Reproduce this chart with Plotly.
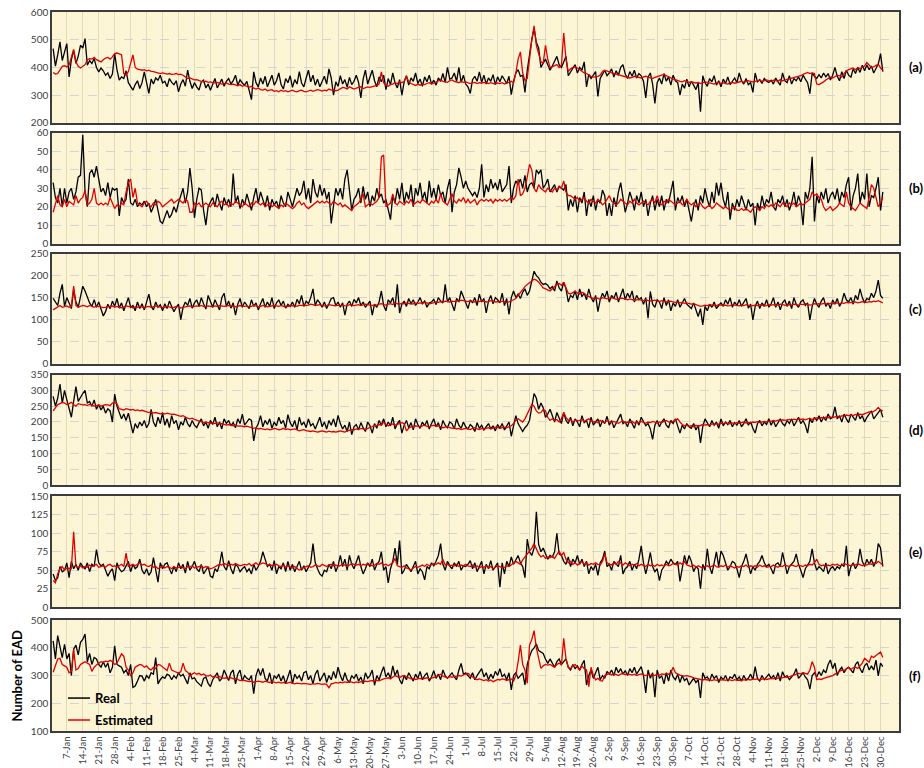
import plotly.graph_objects as go

# ---------------------------------------------------------------- data
# Daily values (day 0 = 1 January), one week per row.

real_a = [
    468, 405, 445, 492, 425, 460, 486,
    366, 428, 462, 415, 440, 480, 470,
    504, 408, 425, 414, 432, 400, 384,
    398, 388, 372, 380, 360, 376, 450,
    392, 354, 366, 360, 388, 345, 330,
    318, 338, 352, 324, 345, 384, 350,
    306, 358, 340, 362, 354, 372, 344,
    350, 330, 360, 346, 338, 352, 312,
    340, 356, 332, 390, 350, 324, 345,
    330, 318, 348, 354, 326, 340, 318,
    338, 360, 326, 345, 358, 332, 350,
    360, 340, 352, 372, 336, 355, 344,
    336, 350, 318, 284, 384, 345, 330,
    362, 340, 368, 330, 348, 372, 336,
    352, 380, 338, 322, 360, 345, 370,
    328, 356, 340, 385, 344, 330, 362,
    390, 348, 372, 336, 358, 330, 352,
    368, 340, 395, 362, 300, 348, 332,
    370, 340, 356, 328, 364, 338, 350,
    372, 346, 290, 358, 390, 340, 362,
    390, 352, 330, 366, 348, 372, 320,
    360, 338, 380, 344, 326, 356, 300,
    348, 370, 336, 362, 350, 380, 342,
    358, 332, 366, 348, 372, 340, 354,
    336, 362, 350, 378, 346, 400, 358,
    362, 380, 350, 400, 346, 372, 340,
    330, 306, 356, 368, 350, 384, 346,
    372, 340, 362, 350, 374, 338, 366,
    348, 370, 356, 342, 368, 302, 350,
    380, 392, 368, 372, 310, 390, 450,
    500, 540, 490, 470, 400, 415, 430,
    410, 390, 405, 420, 440, 410, 400,
    420, 440, 370, 385, 395, 410, 380,
    400, 390, 420, 330, 375, 360, 375,
    385, 295, 360, 375, 390, 370, 380,
    395, 365, 388, 372, 400, 410, 376,
    360, 385, 368, 390, 362, 378, 370,
    350, 290, 365, 380, 340, 270, 345,
    362, 340, 378, 350, 366, 336, 372,
    352, 345, 300, 340, 325, 358, 330,
    350, 336, 320, 345, 240, 370, 345,
    332, 360, 348, 370, 336, 352, 330,
    358, 342, 366, 338, 350, 362, 345,
    380, 352, 340, 360, 338, 345, 310,
    380, 348, 356, 342, 360, 350, 346,
    354, 340, 362, 348, 336, 380, 352,
    345, 370, 340, 360, 352, 366, 348,
    372, 358, 345, 305, 380, 368, 360,
    374, 362, 380, 366, 378, 355, 372,
    400, 368, 352, 385, 360, 390, 372,
    365, 395, 378, 400, 382, 408, 388,
    410, 392, 405, 380, 398, 412, 450,
    385,
]

est_a = [
    382, 376, 378, 392, 404, 406, 402,
    408, 440, 465, 420, 404, 398, 405,
    410, 428, 432, 430, 436, 428, 425,
    420, 428, 434, 436, 430, 438, 450,
    452, 448, 446, 378, 372, 385, 420,
    445, 400, 394, 392, 390, 392, 388,
    390, 386, 385, 382, 380, 378, 380,
    378, 376, 378, 375, 376, 378, 374,
    376, 372, 365, 360, 362, 358, 355,
    356, 352, 350, 348, 350, 346, 348,
    345, 344, 346, 342, 340, 342, 344,
    340, 338, 340, 336, 334, 338, 332,
    335, 330, 328, 332, 325, 322, 326,
    320, 318, 322, 316, 318, 320, 314,
    316, 312, 318, 314, 316, 312, 315,
    318, 314, 312, 316, 318, 314, 312,
    315, 318, 314, 316, 320, 318, 315,
    318, 316, 322, 318, 320, 316, 318,
    324, 328, 326, 322, 330, 326, 322,
    325, 328, 330, 324, 326, 330, 328,
    330, 332, 335, 340, 384, 345, 335,
    332, 338, 340, 345, 342, 348, 345,
    350, 368, 348, 342, 338, 335, 340,
    336, 340, 338, 342, 345, 340, 344,
    348, 352, 355, 350, 348, 346, 352,
    355, 350, 348, 345, 350, 346, 348,
    345, 342, 344, 346, 342, 345, 343,
    346, 344, 342, 345, 343, 340, 344,
    342, 345, 340, 343, 346, 350, 345,
    380, 430, 456, 380, 352, 360, 440,
    500, 550, 480, 450, 420, 415, 480,
    430, 400, 402, 406, 410, 400, 408,
    524, 430, 385, 395, 400, 402, 398,
    392, 385, 380, 378, 372, 368, 365,
    366, 368, 372, 385, 390, 388, 384,
    380, 378, 375, 372, 370, 368, 366,
    365, 362, 364, 368, 366, 364, 362,
    366, 368, 365, 362, 360, 364, 366,
    368, 372, 375, 370, 365, 362, 358,
    356, 352, 350, 348, 352, 350, 346,
    348, 345, 344, 346, 342, 345, 348,
    346, 344, 342, 340, 344, 346, 342,
    345, 342, 340, 344, 346, 343, 345,
    348, 350, 346, 348, 352, 350, 348,
    350, 352, 354, 350, 352, 355, 352,
    350, 354, 352, 350, 356, 352, 354,
    356, 358, 360, 362, 365, 368, 370,
    375, 380, 382, 378, 380, 378, 340,
    338, 342, 348, 355, 360, 365, 362,
    368, 372, 370, 365, 378, 388, 392,
    395, 398, 392, 400, 396, 402, 405,
    418, 410, 400, 402, 408, 412, 398,
    390,
]

real_b = [
    33, 25, 22, 30, 20, 30, 22,
    28, 30, 24, 28, 36, 37, 59,
    28, 20, 38, 40, 36, 42, 35,
    28, 30, 26, 33, 25, 30, 29,
    30, 15, 25, 22, 24, 35, 22,
    21, 24, 20, 22, 21, 23, 20,
    22, 17, 20, 24, 18, 12, 11,
    15, 18, 14, 16, 20, 17, 22,
    26, 30, 22, 28, 41, 30, 14,
    24, 30, 29, 18, 10, 20, 23,
    25, 20, 27, 22, 18, 25, 21,
    24, 20, 38, 22, 26, 19, 24,
    21, 27, 23, 18, 25, 30, 22,
    28, 24, 20, 26, 18, 24, 21,
    23, 19, 26, 22, 20, 28, 24,
    20, 25, 30, 26, 28, 34, 24,
    30, 22, 35, 28, 25, 32, 26,
    30, 24, 28, 11, 22, 30, 26,
    30, 24, 35, 40, 28, 18, 24,
    26, 30, 22, 31, 24, 28, 20,
    26, 23, 30, 25, 27, 22, 24,
    18, 13, 26, 22, 30, 24, 33,
    22, 28, 24, 32, 20, 30, 26,
    33, 24, 28, 22, 34, 25, 30,
    24, 32, 26, 28, 22, 30, 35,
    17, 28, 32, 41, 36, 30, 34,
    30, 28, 26, 28, 25, 30, 43,
    25, 32, 28, 35, 30, 33, 29,
    35, 28, 30, 32, 42, 22, 30,
    34, 32, 35, 30, 37, 28, 32,
    33, 30, 40, 38, 40, 30, 32,
    35, 28, 30, 32, 28, 31, 30,
    29, 32, 18, 24, 20, 26, 17,
    25, 22, 28, 15, 24, 20, 26,
    18, 24, 22, 29, 26, 15, 22,
    15, 25, 20, 28, 33, 25, 17,
    22, 28, 24, 18, 26, 22, 28,
    20, 24, 15, 22, 26, 18, 24,
    20, 26, 18, 24, 22, 28, 34,
    18, 25, 22, 26, 20, 24, 18,
    12, 20, 24, 18, 26, 22, 30,
    24, 20, 28, 22, 33, 26, 33,
    24, 20, 28, 13, 22, 18, 24,
    20, 26, 22, 18, 24, 20, 22,
    10, 22, 18, 26, 20, 24, 22,
    28, 20, 18, 24, 22, 26, 20,
    24, 18, 22, 28, 20, 26, 22,
    10, 28, 24, 30, 47, 12, 26,
    22, 28, 24, 30, 22, 26, 28,
    24, 30, 22, 28, 25, 32, 36,
    18, 26, 30, 38, 22, 28, 24,
    38, 20, 26, 25, 30, 36, 18,
    28,
]

est_b = [
    17, 22, 26, 21, 20, 24, 20,
    23, 22, 21, 26, 22, 24, 25,
    29, 21, 22, 24, 30, 22, 21,
    22, 21, 22, 21, 25, 22, 19,
    21, 20, 22, 21, 28, 33, 35,
    25, 30, 22, 21, 20, 22, 23,
    21, 20, 22, 21, 23, 22, 20,
    21, 22, 23, 24, 22, 23, 24,
    23, 22, 24, 23, 17, 17, 22,
    21, 22, 20, 21, 22, 21, 20,
    22, 21, 20, 22, 23, 21, 22,
    20, 22, 21, 23, 22, 21, 20,
    22, 21, 20, 22, 21, 23, 22,
    21, 22, 20, 21, 22, 20, 21,
    20, 19, 21, 20, 22, 21, 20,
    19, 20, 22, 23, 21, 22, 20,
    19, 20, 21, 22, 23, 22, 23,
    22, 23, 22, 21, 23, 22, 21,
    22, 20, 21, 20, 19, 18, 20,
    21, 22, 24, 27, 20, 21, 22,
    21, 22, 23, 25, 47, 48, 20,
    21, 22, 27, 22, 21, 23, 22,
    21, 23, 22, 24, 21, 22, 23,
    22, 24, 23, 22, 21, 23, 22,
    24, 22, 27, 23, 22, 21, 24,
    27, 23, 22, 24, 23, 25, 22,
    24, 22, 23, 24, 21, 23, 24,
    23, 24, 23, 24, 22, 24, 23,
    24, 23, 24, 23, 24, 25, 24,
    26, 35, 26, 27, 30, 36, 43,
    40, 30, 28, 32, 30, 29, 28,
    30, 29, 28, 30, 29, 31, 30,
    34, 28, 26, 26, 25, 24, 25,
    23, 24, 25, 23, 22, 24, 23,
    22, 24, 23, 21, 22, 24, 26,
    23, 22, 21, 22, 24, 23, 22,
    21, 23, 22, 24, 22, 21, 22,
    23, 22, 21, 23, 24, 22, 26,
    22, 21, 23, 22, 24, 23, 22,
    21, 22, 23, 21, 22, 24, 22,
    21, 22, 20, 21, 22, 20, 19,
    20, 21, 19, 20, 22, 21, 20,
    19, 20, 19, 18, 19, 20, 18,
    18, 19, 18, 19, 18, 17, 19,
    20, 19, 18, 20, 19, 21, 20,
    21, 20, 22, 21, 20, 22, 21,
    20, 22, 21, 22, 20, 21, 22,
    21, 22, 23, 24, 28, 26, 27,
    25, 24, 20, 18, 19, 20, 18,
    19, 20, 22, 21, 20, 28, 22,
    20, 19, 18, 20, 22, 21, 20,
    19, 25, 32, 30, 24, 20, 22,
    25,
]

real_c = [
    148, 140, 132, 160, 180, 130, 150,
    138, 125, 168, 140, 128, 155, 176,
    165, 150, 138, 130, 145, 128, 140,
    124, 108, 118, 135, 125, 142, 130,
    148, 126, 138, 120, 135, 150, 128,
    132, 120, 140, 125, 136, 122, 138,
    158, 130, 122, 140, 128, 134, 120,
    136, 125, 142, 130, 118, 128, 135,
    100, 128, 140, 132, 148, 126, 138,
    145, 130, 150, 136, 124, 155, 140,
    128, 145, 135, 122, 150, 160, 130,
    142, 126, 138, 110, 135, 148, 128,
    140, 132, 125, 145, 130, 138, 122,
    136, 148, 128, 140, 130, 150, 125,
    138, 145, 132, 142, 126, 135, 130,
    140, 128, 146, 136, 155, 130, 142,
    136, 150, 170, 132, 145, 138, 128,
    140, 125, 136, 148, 150, 132, 140,
    128, 138, 110, 135, 142, 130, 146,
    138, 150, 132, 140, 128, 135, 142,
    110, 135, 128, 140, 165, 132, 120,
    145, 138, 150, 128, 180, 115, 135,
    142, 130, 148, 136, 145, 132, 140,
    150, 136, 142, 128, 138, 140, 146,
    134, 150, 142, 138, 180, 140, 150,
    135, 120, 148, 140, 165, 150, 140,
    125, 145, 138, 150, 132, 158, 140,
    148, 115, 142, 155, 136, 150, 145,
    138, 160, 132, 148, 112, 150, 165,
    150, 158, 148, 162, 170, 155, 165,
    190, 210, 200, 195, 185, 180, 182,
    178, 170, 175, 165, 188, 172, 165,
    185, 170, 140, 155, 150, 165, 145,
    170, 152, 160, 145, 170, 150, 140,
    155, 118, 145, 160, 150, 165, 140,
    155, 148, 162, 140, 158, 170, 145,
    160, 150, 165, 140, 155, 145, 150,
    135, 150, 103, 164, 135, 128, 145,
    140, 125, 150, 132, 145, 120, 138,
    130, 145, 128, 140, 148, 135, 130,
    125, 138, 120, 107, 125, 88, 130,
    120, 135, 128, 140, 125, 132, 138,
    130, 145, 135, 150, 128, 140, 132,
    145, 130, 138, 148, 126, 135, 99,
    130, 142, 125, 138, 130, 145, 128,
    136, 150, 128, 140, 122, 138, 145,
    130, 142, 125, 150, 135, 128, 140,
    145, 132, 138, 99, 130, 148, 135,
    128, 142, 150, 130, 138, 125, 145,
    135, 148, 130, 140, 160, 145, 140,
    150, 135, 155, 145, 170, 150, 138,
    148, 145, 160, 150, 165, 190, 155,
    148,
]

est_c = [
    122, 126, 130, 132, 128, 130, 131,
    128, 130, 176, 132, 128, 130, 132,
    131, 129, 132, 130, 128, 131, 130,
    129, 127, 128, 130, 129, 131, 128,
    130, 128, 127, 129, 131, 130, 128,
    127, 129, 128, 130, 128, 127, 129,
    130, 128, 129, 131, 130, 128, 127,
    128, 130, 129, 127, 128, 130, 129,
    126, 128, 129, 130, 131, 129, 130,
    131, 130, 132, 130, 129, 131, 130,
    129, 131, 130, 132, 131, 130, 131,
    132, 130, 131, 129, 130, 132, 131,
    130, 131, 129, 130, 132, 131, 129,
    130, 132, 131, 129, 130, 131, 132,
    131, 130, 132, 131, 129, 130, 131,
    132, 131, 130, 133, 132, 134, 132,
    133, 135, 134, 132, 133, 134, 132,
    131, 132, 134, 133, 132, 131, 133,
    132, 133, 131, 132, 134, 133, 132,
    133, 134, 132, 133, 135, 134, 133,
    132, 134, 133, 135, 136, 134, 133,
    135, 136, 134, 138, 136, 135, 137,
    136, 138, 137, 135, 136, 138, 137,
    138, 137, 139, 138, 136, 137, 139,
    140, 139, 141, 140, 142, 141, 140,
    142, 141, 143, 142, 144, 143, 142,
    141, 143, 142, 140, 142, 141, 143,
    142, 140, 141, 143, 142, 140, 141,
    140, 142, 141, 139, 140, 142, 145,
    148, 155, 160, 168, 175, 180, 185,
    188, 192, 190, 185, 178, 172, 170,
    168, 165, 170, 175, 180, 182, 178,
    185, 170, 160, 158, 162, 165, 160,
    158, 162, 160, 155, 152, 150, 148,
    150, 148, 146, 150, 148, 147, 149,
    150, 148, 146, 147, 149, 148, 146,
    145, 147, 146, 144, 145, 146, 144,
    143, 145, 144, 142, 143, 144, 142,
    141, 143, 142, 140, 141, 142, 140,
    139, 140, 138, 139, 137, 138, 136,
    135, 136, 134, 132, 130, 131, 133,
    132, 134, 133, 131, 132, 134, 133,
    132, 133, 131, 132, 134, 133, 132,
    131, 133, 132, 134, 133, 131, 132,
    133, 132, 134, 133, 131, 132, 134,
    133, 134, 132, 133, 135, 134, 133,
    132, 134, 133, 135, 134, 133, 135,
    134, 136, 135, 133, 134, 136, 135,
    136, 135, 137, 136, 135, 137, 136,
    137, 138, 136, 138, 137, 139, 138,
    138, 139, 140, 138, 139, 141, 140,
    139, 141, 140, 142, 141, 143, 140,
    138,
]

real_d = [
    281, 250, 275, 320, 260, 300, 270,
    245, 215, 265, 312, 265, 280, 290,
    300, 260, 265, 250, 270, 240, 255,
    238, 250, 228, 242, 235, 200, 288,
    250, 232, 210, 225, 205, 228, 198,
    165, 195, 180, 200, 188, 205, 182,
    195, 240, 200, 185, 215, 195, 230,
    190, 210, 182, 220, 195, 205, 175,
    200, 190, 215, 195, 185, 205, 190,
    182, 198, 210, 188, 200, 180, 205,
    192, 215, 185, 200, 178, 210, 195,
    205, 188, 198, 182, 210, 195, 225,
    190, 200, 210, 205, 140, 180, 195,
    220, 185, 205, 192, 210, 180, 200,
    188, 215, 195, 205, 180, 223, 198,
    185, 205, 175, 215, 190, 200, 182,
    210, 188, 195, 178, 200, 215, 185,
    200, 178, 205, 190, 210, 185, 221,
    195, 178, 190, 170, 200, 160, 185,
    192, 175, 198, 182, 170, 200, 188,
    165, 195, 180, 205, 190, 210, 185,
    200, 188, 215, 178, 195, 205, 165,
    190, 205, 182, 198, 175, 210, 192,
    180, 200, 188, 205, 178, 195, 210,
    185, 198, 175, 205, 190, 182, 200,
    195, 178, 210, 190, 180, 200, 185,
    178, 192, 185, 170, 198, 180, 190,
    175, 185, 195, 178, 188, 172, 192,
    180, 195, 175, 188, 200, 155, 185,
    220, 195, 180, 170, 182, 190, 205,
    250, 290, 275, 240, 260, 245, 215,
    225, 240, 218, 200, 230, 215, 195,
    230, 205, 195, 215, 188, 210, 200,
    185, 220, 198, 205, 182, 215, 190,
    200, 210, 185, 205, 195, 218, 190,
    205, 182, 198, 210, 225, 195, 200,
    185, 210, 195, 180, 205, 190, 215,
    200, 188, 195, 178, 145, 190, 205,
    185, 200, 210, 190, 182, 205, 195,
    210, 188, 165, 190, 178, 195, 185,
    180, 195, 175, 190, 134, 185, 210,
    195, 185, 205, 190, 200, 180, 210,
    188, 200, 192, 205, 185, 198, 190,
    205, 185, 195, 210, 190, 200, 180,
    165, 195, 205, 188, 200, 192, 210,
    190, 205, 185, 198, 210, 195, 188,
    205, 195, 210, 188, 200, 215, 195,
    205, 190, 165, 210, 198, 215, 205,
    220, 200, 215, 205, 225, 210, 215,
    248, 210, 220, 200, 225, 210, 198,
    225, 215, 205, 230, 210, 220, 200,
    215, 225, 235, 210, 222, 230, 240,
    215,
]

est_d = [
    235, 245, 255, 258, 262, 260, 255,
    258, 262, 255, 250, 258, 256, 254,
    255, 252, 256, 254, 250, 252, 254,
    250, 252, 255, 254, 252, 260, 262,
    258, 242, 240, 238, 242, 240, 238,
    240, 236, 238, 235, 237, 234, 232,
    230, 232, 228, 230, 227, 226, 228,
    225, 228, 226, 224, 225, 222, 220,
    218, 220, 215, 212, 210, 212, 208,
    205, 202, 200, 198, 200, 197, 196,
    198, 195, 197, 194, 195, 192, 190,
    192, 190, 188, 190, 187, 188, 186,
    185, 187, 184, 182, 180, 182, 178,
    180, 178, 176, 178, 175, 177, 180,
    178, 175, 177, 180, 176, 178, 175,
    176, 178, 175, 172, 174, 176, 173,
    172, 170, 172, 170, 168, 170, 172,
    170, 168, 171, 169, 170, 168, 170,
    172, 170, 168, 172, 174, 176, 175,
    178, 176, 180, 178, 176, 180, 182,
    185, 190, 188, 192, 190, 200, 192,
    188, 190, 194, 190, 192, 196, 198,
    195, 172, 180, 185, 182, 188, 186,
    185, 188, 190, 186, 184, 188, 190,
    186, 188, 185, 182, 184, 186, 182,
    180, 182, 178, 180, 176, 178, 180,
    178, 176, 180, 182, 178, 176, 180,
    178, 180, 182, 178, 180, 184, 182,
    180, 182, 184, 182, 185, 188, 195,
    205, 210, 205, 200, 210, 225, 240,
    255, 250, 235, 228, 230, 240, 235,
    215, 205, 210, 205, 208, 200, 210,
    230, 215, 205, 208, 200, 206, 204,
    205, 208, 202, 206, 210, 204, 200,
    202, 198, 205, 200, 198, 204, 200,
    198, 202, 200, 196, 200, 204, 198,
    200, 198, 202, 196, 200, 198, 202,
    199, 196, 200, 198, 202, 200, 197,
    200, 198, 202, 205, 200, 198, 202,
    205, 210, 200, 192, 188, 190, 186,
    188, 185, 190, 186, 188, 192, 190,
    192, 190, 194, 192, 195, 193, 196,
    195, 198, 196, 194, 197, 195, 198,
    196, 198, 200, 197, 199, 198, 200,
    199, 201, 198, 200, 202, 200, 203,
    202, 205, 203, 206, 204, 207, 205,
    206, 208, 206, 209, 207, 210, 208,
    210, 207, 209, 212, 208, 211, 213,
    210, 214, 212, 215, 213, 216, 214,
    216, 218, 215, 220, 218, 222, 220,
    222, 220, 224, 221, 225, 223, 226,
    228, 232, 230, 235, 238, 246, 238,
    235,
]

real_e = [
    45, 36, 40, 55, 48, 50, 60,
    40, 62, 52, 58, 50, 60, 55,
    52, 60, 48, 58, 55, 78, 60,
    56, 58, 50, 42, 48, 52, 36,
    60, 52, 48, 50, 56, 62, 48,
    58, 52, 55, 65, 50, 45, 52,
    43, 48, 67, 50, 34, 60, 52,
    58, 60, 52, 45, 55, 48, 60,
    52, 58, 46, 62, 50, 55, 62,
    52, 48, 58, 45, 50, 55, 42,
    40, 52, 48, 58, 75, 55, 50,
    63, 52, 45, 58, 55, 48, 52,
    55, 48, 52, 45, 58, 50, 55,
    62, 75, 65, 55, 58, 50, 63,
    45, 55, 52, 60, 48, 62, 50,
    58, 48, 55, 62, 50, 56, 48,
    55, 60, 86, 60, 52, 45, 42,
    50, 48, 58, 52, 62, 48, 56,
    70, 55, 65, 50, 70, 58, 52,
    62, 70, 55, 45, 52, 60, 55,
    65, 50, 58, 62, 75, 50, 55,
    33, 52, 62, 80, 58, 90, 45,
    50, 58, 52, 48, 55, 62, 45,
    52, 48, 37, 55, 52, 60, 56,
    62, 70, 86, 58, 50, 62, 56,
    52, 60, 55, 62, 50, 56, 55,
    58, 63, 52, 60, 48, 55, 62,
    45, 58, 52, 63, 50, 56, 60,
    27, 60, 45, 62, 55, 68, 58,
    65, 70, 60, 55, 40, 92, 75,
    70, 80, 129, 85, 75, 80, 72,
    65, 70, 68, 75, 100, 72, 70,
    62, 58, 68, 55, 65, 60, 70,
    58, 65, 55, 62, 45, 55, 50,
    58, 43, 60, 65, 76, 55, 58,
    50, 62, 58, 55, 70, 45, 52,
    55, 62, 50, 58, 52, 65, 83,
    60, 45, 58, 74, 55, 48, 52,
    36, 50, 55, 62, 58, 65, 60,
    58, 62, 35, 55, 70, 58, 70,
    62, 48, 55, 52, 25, 58, 50,
    79, 55, 45, 60, 75, 55, 76,
    70, 58, 50, 55, 62, 60, 52,
    40, 55, 62, 72, 58, 45, 55,
    50, 58, 62, 70, 60, 55, 58,
    52, 45, 58, 60, 55, 74, 60,
    45, 55, 58, 62, 72, 58, 50,
    40, 52, 58, 62, 79, 60, 50,
    55, 52, 48, 60, 45, 52, 55,
    50, 55, 52, 58, 55, 83, 42,
    55, 60, 52, 58, 79, 62, 55,
    65, 58, 65, 55, 62, 86, 80,
    55,
]

est_e = [
    36, 33, 45, 52, 55, 50, 53,
    52, 52, 102, 55, 54, 56, 53,
    55, 54, 57, 55, 56, 58, 54,
    55, 56, 54, 57, 58, 55, 56,
    54, 56, 58, 55, 73, 55, 57,
    58, 56, 58, 60, 57, 58, 56,
    55, 57, 54, 55, 52, 54, 56,
    53, 55, 54, 52, 55, 53, 54,
    55, 53, 52, 55, 54, 56, 53,
    54, 55, 56, 53, 55, 54, 52,
    53, 55, 56, 58, 57, 59, 58,
    56, 58, 57, 59, 58, 56, 57,
    58, 57, 59, 56, 58, 60, 57,
    58, 60, 59, 57, 58, 56, 57,
    58, 56, 55, 57, 54, 56, 55,
    53, 55, 52, 50, 52, 54, 55,
    56, 54, 55, 57, 56, 55, 58,
    56, 55, 57, 58, 56, 57, 55,
    56, 58, 57, 55, 57, 59, 58,
    57, 58, 56, 58, 57, 59, 58,
    56, 57, 59, 58, 60, 57, 58,
    56, 58, 60, 66, 56, 55, 54,
    56, 53, 52, 50, 53, 55, 54,
    56, 57, 55, 58, 56, 57, 59,
    58, 60, 58, 65, 57, 58, 56,
    57, 56, 58, 55, 57, 56, 58,
    56, 55, 57, 54, 56, 53, 55,
    54, 56, 53, 55, 52, 54, 56,
    55, 53, 54, 56, 55, 57, 60,
    62, 60, 58, 64, 68, 72, 76,
    80, 86, 78, 72, 68, 70, 66,
    68, 67, 69, 66, 72, 76, 70,
    74, 65, 60, 62, 58, 60, 57,
    59, 62, 58, 60, 57, 59, 58,
    60, 58, 57, 62, 72, 60, 58,
    57, 60, 58, 62, 59, 57, 60,
    58, 56, 58, 57, 59, 56, 58,
    57, 55, 58, 56, 57, 55, 58,
    56, 57, 55, 58, 56, 57, 59,
    58, 57, 60, 58, 62, 57, 56,
    55, 57, 54, 56, 55, 53, 55,
    56, 54, 55, 57, 55, 54, 56,
    55, 57, 54, 56, 55, 53, 55,
    54, 56, 55, 57, 54, 56, 55,
    56, 54, 57, 55, 56, 54, 55,
    55, 57, 56, 54, 56, 55, 57,
    56, 55, 57, 56, 55, 57, 56,
    55, 57, 56, 58, 57, 60, 65,
    58, 56, 57, 55, 57, 56, 58,
    57, 58, 56, 57, 59, 58, 57,
    56, 58, 57, 59, 58, 56, 58,
    57, 59, 58, 60, 59, 62, 60,
    57,
]

real_f = [
    425, 360, 444, 400, 365, 413, 360,
    380, 300, 395, 410, 375, 420, 430,
    450, 350, 380, 340, 365, 360, 340,
    330, 350, 330, 345, 310, 330, 407,
    340, 335, 330, 310, 320, 300, 340,
    257, 262, 280, 300, 298, 280, 300,
    290, 310, 305, 365, 270, 285, 295,
    290, 305, 300, 285, 300, 290, 310,
    298, 305, 290, 270, 310, 288, 292,
    278, 270, 262, 290, 295, 272, 260,
    285, 300, 310, 280, 290, 320, 300,
    282, 310, 320, 270, 305, 320, 280,
    300, 290, 285, 300, 235, 300, 325,
    300, 326, 290, 280, 310, 270, 300,
    290, 305, 280, 300, 270, 295, 320,
    270, 305, 290, 300, 280, 310, 315,
    285, 300, 270, 305, 320, 280, 295,
    310, 275, 300, 285, 315, 290, 330,
    300, 280, 310, 285, 275, 300, 290,
    305, 280, 295, 270, 310, 290, 300,
    320, 265, 300, 285, 310, 332, 295,
    310, 290, 335, 300, 320, 285, 270,
    300, 285, 310, 295, 280, 305, 290,
    315, 285, 300, 310, 280, 295, 318,
    290, 305, 285, 320, 300, 290, 300,
    310, 295, 285, 320, 344, 305, 310,
    300, 290, 310, 285, 300, 315, 325,
    295, 310, 285, 305, 290, 315, 300,
    325, 295, 305, 285, 310, 248, 300,
    310, 290, 300, 310, 266, 340, 368,
    390, 400, 414, 390, 385, 380, 360,
    344, 360, 345, 330, 350, 360, 340,
    350, 360, 330, 320, 340, 325, 335,
    320, 340, 355, 266, 300, 320, 290,
    310, 330, 285, 300, 290, 315, 305,
    320, 300, 330, 310, 325, 305, 318,
    300, 325, 310, 330, 305, 320, 332,
    300, 237, 320, 290, 310, 222, 320,
    290, 300, 270, 310, 280, 320, 295,
    285, 305, 275, 300, 282, 290, 266,
    280, 290, 275, 285, 219, 310, 290,
    295, 280, 305, 290, 300, 275, 295,
    285, 300, 280, 295, 290, 305, 285,
    295, 280, 300, 285, 290, 305, 285,
    332, 290, 280, 300, 285, 295, 305,
    290, 300, 285, 310, 280, 314, 295,
    300, 285, 295, 305, 325, 290, 300,
    310, 295, 285, 251, 300, 310, 295,
    314, 300, 320, 310, 340, 356, 325,
    345, 300, 320, 330, 310, 325, 330,
    320, 310, 340, 350, 325, 310, 335,
    345, 320, 335, 320, 356, 299, 345,
    332,
]

est_f = [
    312, 340, 360, 362, 340, 335, 330,
    310, 315, 395, 320, 325, 340, 345,
    350, 345, 340, 315, 330, 338, 345,
    350, 348, 352, 350, 355, 350, 340,
    345, 360, 378, 370, 330, 320, 300,
    310, 330, 335, 340, 338, 330, 335,
    325, 320, 330, 325, 340, 338, 330,
    325, 318, 345, 320, 315, 312, 310,
    314, 345, 318, 312, 300, 305, 310,
    305, 308, 302, 306, 300, 298, 302,
    295, 298, 292, 296, 294, 290, 292,
    290, 292, 288, 290, 285, 282, 284,
    282, 280, 278, 280, 276, 278, 280,
    278, 276, 280, 277, 275, 278, 276,
    274, 276, 273, 275, 272, 274, 276,
    272, 270, 273, 271, 270, 272, 270,
    270, 268, 271, 269, 272, 270, 268,
    270, 268, 256, 270, 272, 275, 273,
    276, 274, 277, 275, 278, 276, 274,
    277, 275, 278, 276, 280, 278, 281,
    282, 280, 283, 281, 285, 288, 290,
    292, 288, 295, 300, 296, 292, 298,
    300, 296, 292, 288, 290, 286, 288,
    290, 287, 289, 292, 288, 290, 294,
    296, 300, 305, 298, 295, 292, 296,
    294, 298, 296, 300, 298, 302, 305,
    308, 300, 295, 290, 285, 288, 284,
    282, 285, 280, 284, 278, 282, 286,
    284, 288, 286, 282, 285, 288, 280,
    300, 350, 410, 340, 320, 272, 410,
    430, 462, 400, 360, 326, 335, 340,
    338, 340, 335, 330, 340, 345, 338,
    434, 360, 330, 325, 335, 340, 330,
    320, 335, 325, 320, 260, 330, 300,
    285, 290, 282, 280, 300, 305, 308,
    302, 306, 304, 300, 305, 308, 303,
    306, 304, 302, 305, 300, 303, 306,
    302, 300, 304, 301, 303, 300, 305,
    302, 306, 304, 308, 305, 310, 330,
    310, 305, 302, 300, 298, 300, 296,
    295, 292, 290, 288, 286, 284, 286,
    284, 286, 282, 285, 283, 286, 284,
    285, 283, 286, 284, 282, 285, 283,
    284, 282, 285, 283, 286, 284, 288,
    286, 288, 285, 287, 289, 286, 288,
    290, 288, 292, 290, 294, 292, 295,
    293, 296, 300, 302, 305, 308, 306,
    310, 308, 305, 320, 350, 330, 285,
    288, 286, 290, 292, 295, 298, 300,
    305, 310, 315, 320, 318, 325, 330,
    322, 328, 330, 326, 335, 345, 362,
    355, 348, 370, 365, 372, 380, 385,
    365,
]

# weekly date labels on the shared time axis (day index of each label)
tick_days = list(range(6, 364, 7))
tick_labels = [
    "7-Jan", "14-Jan", "21-Jan", "28-Jan", "4-Feb", "11-Feb", "18-Feb",
    "25-Feb", "4-Mar", "11-Mar", "18-Mar", "25-Mar", "1-Apr", "8-Apr",
    "15-Apr", "22-Apr", "29-Apr", "6-May", "13-May", "20-May", "27-May",
    "3-Jun", "10-Jun", "17-Jun", "24-Jun", "1-Jul", "8-Jul", "15-Jul",
    "22-Jul", "29-Jul", "5-Aug", "12-Aug", "19-Aug", "26-Aug", "2-Sep",
    "9-Sep", "16-Sep", "23-Sep", "30-Sep", "7-Oct", "14-Oct", "21-Oct",
    "28-Oct", "4-Nov", "11-Nov", "18-Nov", "25-Nov", "2-Dec", "9-Dec",
    "16-Dec", "23-Dec", "30-Dec",
]

panel_names = ["(a)", "(b)", "(c)", "(d)", "(e)", "(f)"]
series_names = ["Real", "Estimated"]
real_series = [real_a, real_b, real_c, real_d, real_e, real_f]
est_series = [est_a, est_b, est_c, est_d, est_e, est_f]
y_ranges = [(200, 600), (0, 60), (0, 250), (0, 350), (0, 150), (100, 500)]
y_steps = [100, 10, 50, 50, 25, 100]

# ---------------------------------------------------------------- styling
FONT = "Lato, 'Liberation Sans', Arial, sans-serif"
PANEL_BG = "#FBF5DB"
FRAME = "#3C3C3C"
REAL_COLOR = "#000000"
EST_COLOR = "#E00000"

# vertical extent of each panel (paper fractions, top panel first)
domains = [
    (0.8458, 1.0),
    (0.6778, 0.8319),
    (0.5111, 0.6639),
    (0.3417, 0.4958),
    (0.1722, 0.3264),
    (0.0, 0.1542),
]

fig = go.Figure()
layout = dict(
    width=924,
    height=768,
    margin=dict(l=52, r=25, t=12, b=37, autoexpand=False),
    paper_bgcolor="white",
    plot_bgcolor=PANEL_BG,
    font=dict(family=FONT, size=10, color="#404040"),
    showlegend=False,
    annotations=[],
    shapes=[],
)

for i in range(6):
    n = i + 1
    xa = "x" if n == 1 else f"x{n}"
    ya = "y" if n == 1 else f"y{n}"

    fig.add_trace(go.Scatter(
        x=list(range(len(real_series[i]))), y=real_series[i], mode="lines",
        name=series_names[0],
        line=dict(color=REAL_COLOR, width=1.3),
        xaxis=xa, yaxis=ya,
    ))
    fig.add_trace(go.Scatter(
        x=list(range(len(est_series[i]))), y=est_series[i], mode="lines",
        name=series_names[1],
        line=dict(color=EST_COLOR, width=1.3),
        xaxis=xa, yaxis=ya,
    ))

    lo, hi = y_ranges[i]
    xaxis = dict(
        domain=[0, 1],
        anchor=ya,
        range=[-0.5, 371.1],
        tickmode="array",
        tickvals=tick_days,
        ticktext=tick_labels,
        tickangle=-90,
        showticklabels=(n == 6),
        tickfont=dict(family=FONT, size=9.5, color="#404040"),
        ticks="",
        ticklen=0,
        showgrid=True,
        gridcolor="#E3D9B4",
        gridwidth=1,
        minor=dict(tickmode="linear", tick0=0, dtick=1, showgrid=True,
                   gridcolor="#FFF5CC", gridwidth=1),
        zeroline=False,
        showline=True,
        mirror=True,
        linecolor=FRAME,
        linewidth=1.5,
        automargin=False,
    )
    if n > 1:
        xaxis["matches"] = "x"
    layout["xaxis" if n == 1 else f"xaxis{n}"] = xaxis

    layout["yaxis" if n == 1 else f"yaxis{n}"] = dict(
        domain=list(domains[i]),
        anchor=xa,
        range=[lo, hi],
        tickmode="linear",
        tick0=lo,
        dtick=y_steps[i],
        tickfont=dict(family=FONT, size=10, color="#404040"),
        ticks="",
        showgrid=True,
        gridcolor="#D4D4D4",
        griddash="dash",
        gridwidth=1,
        zeroline=False,
        showline=True,
        mirror=True,
        linecolor=FRAME,
        linewidth=1.5,
        automargin=False,
    )
    layout["annotations"].append(dict(
        text=f"<b>{panel_names[i]}</b>",
        xref="paper", yref="paper",
        x=1.0, xshift=8, xanchor="left",
        y=(domains[i][0] + domains[i][1]) / 2, yanchor="middle",
        showarrow=False,
        font=dict(family=FONT, size=13, color="#000000"),
    ))

# legend key drawn inside the bottom panel (line sample + label)
key_rows = [(series_names[0], REAL_COLOR, 0.0458),
            (series_names[1], EST_COLOR, 0.0153)]
for label, color, ky in key_rows:
    layout["shapes"].append(dict(
        type="line", xref="paper", yref="paper",
        x0=0.0189, x1=0.0449, y0=ky, y1=ky,
        line=dict(color=color, width=1.5),
    ))
    layout["annotations"].append(dict(
        text=f"<b>{label}</b>",
        xref="paper", yref="paper",
        x=0.0484, xanchor="left", y=ky, yanchor="middle",
        showarrow=False,
        font=dict(family=FONT, size=13, color="#000000"),
    ))

# y title of the bottom panel
layout["annotations"].append(dict(
    text="<b>Number of EAD</b>",
    xref="paper", yref="paper",
    x=0, xshift=-35, xanchor="center",
    y=0.0771, yanchor="middle",
    textangle=-90,
    showarrow=False,
    font=dict(family=FONT, size=13, color="#000000"),
))

fig.update_layout(**layout)
fig.write_html("out.html")
